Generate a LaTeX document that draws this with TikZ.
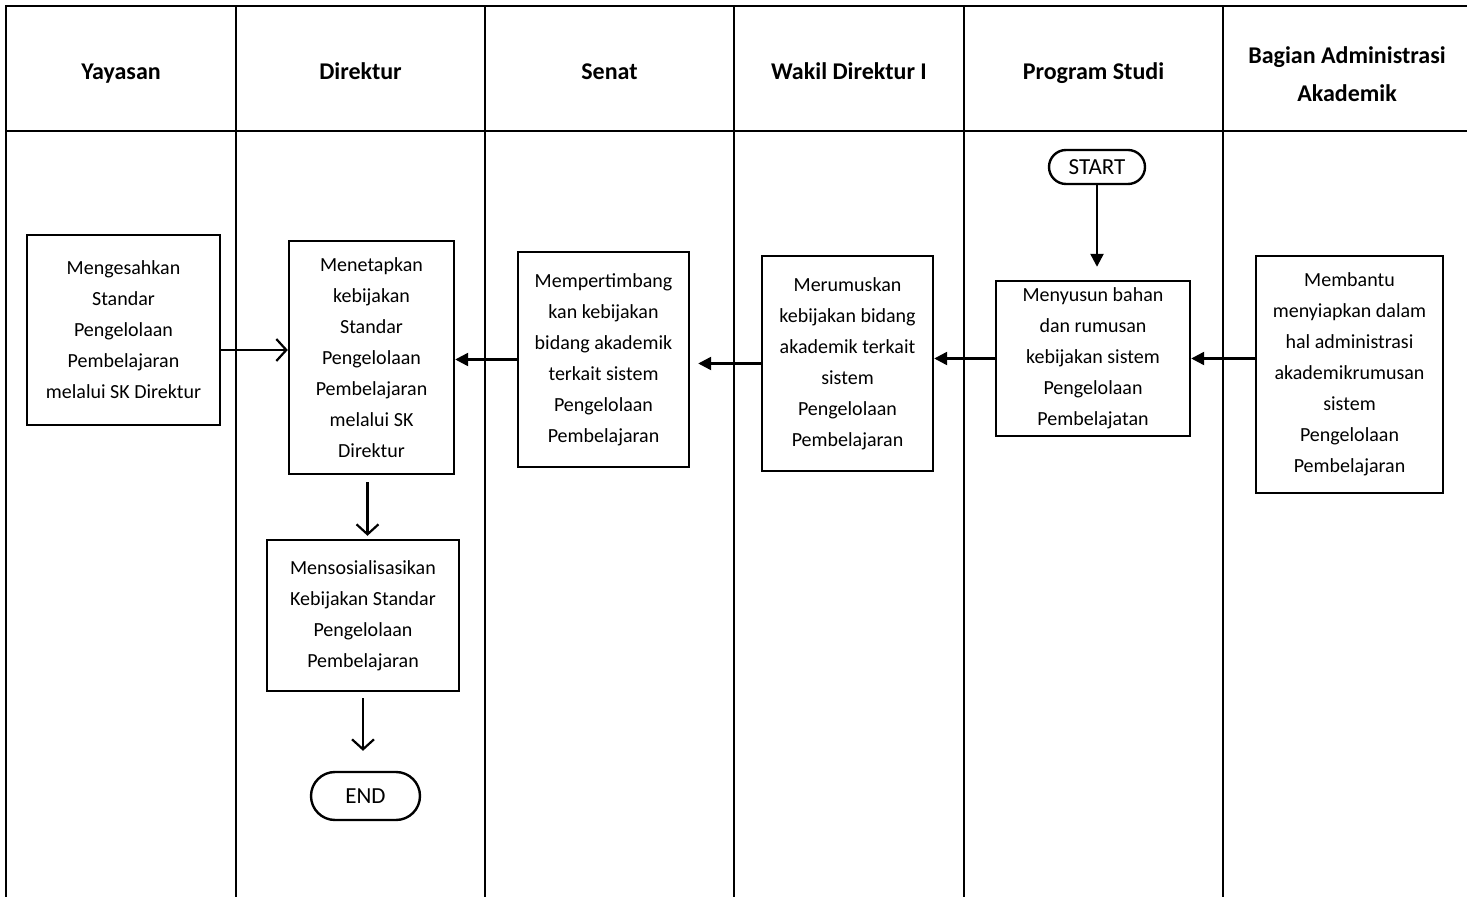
\documentclass[tikz,border=0pt]{standalone}
\usepackage{fontspec}
\setmainfont{Carlito}
\usetikzlibrary{arrows.meta,positioning}
\tikzset{
  garis/.style={line width=1.3pt},
  kotak/.style={draw, line width=1.2pt, align=center, inner sep=2pt, font=\fontsize{10}{15.5}\selectfont},
  terminal/.style={draw, line width=1.2pt, align=center, inner sep=0pt, font=\fontsize{11.5}{13}\selectfont},
  judul/.style={align=center, font=\fontsize{12}{19}\selectfont\bfseries},
  panahisi/.style={line width=1.2pt, -{Triangle[length=6.5pt,width=6.5pt]}},
  panahbuka/.style={line width=1.1pt, -{Straight Barb[length=5pt,width=11pt,line width=1.1pt]}},
}
\begin{document}
\begin{tikzpicture}[x=0.5pt, y=-0.5pt, line join=miter]
\useasboundingbox (0,0) rectangle (1467,897);
% Bingkai dan garis lajur
\draw[garis] (6,897) -- (6,6) -- (1467,6);
\draw[garis] (6,131) -- (1467,131);
\foreach \x in {236,485,734,964,1223}
  \draw[garis] (\x,6) -- (\x,897);
% Judul lajur
\node[judul, anchor=base] (hYay) at (121,80) {Yayasan};
\node[judul, anchor=base] (hDir) at (360.5,80) {Direktur};
\node[judul, anchor=base] (hSen) at (609.5,80) {Senat};
\node[judul, anchor=base] (hWak) at (849,80) {Wakil Direktur I};
\node[judul, anchor=base] (hPro) at (1093.5,80) {Program Studi};
\node[judul] (hBaa) at (1347,74) {Bagian Administrasi\\Akademik};
% Kotak proses
\node[kotak, minimum width=96.5pt, minimum height=95pt] (yay) at (123.5,330)
  {Mengesahkan\\Standar\\Pengelolaan\\Pembelajaran\\melalui SK Direktur};
\node[kotak, minimum width=82.5pt, minimum height=116.5pt] (dir1) at (371.5,357.5)
  {Menetapkan\\kebijakan\\Standar\\Pengelolaan\\Pembelajaran\\melalui SK\\Direktur};
\node[kotak, minimum width=96pt, minimum height=75.5pt] (dir2) at (363,615.5)
  {Mensosialisasikan\\Kebijakan Standar\\Pengelolaan\\Pembelajaran};
\node[kotak, minimum width=85.5pt, minimum height=107.5pt] (sen) at (603.5,359.5)
  {Mempertimbang\\kan kebijakan\\bidang akademik\\terkait sistem\\Pengelolaan\\Pembelajaran};
\node[kotak, minimum width=85.5pt, minimum height=107.5pt] (wak) at (847.5,363.5)
  {Merumuskan\\kebijakan bidang\\akademik terkait\\sistem\\Pengelolaan\\Pembelajaran};
\node[kotak, minimum width=97pt, minimum height=77.5pt] (pro) at (1093,358.5)
  {Menyusun bahan\\dan rumusan\\kebijakan sistem\\Pengelolaan\\Pembelajatan};
\node[kotak, minimum width=93.5pt, minimum height=118.5pt] (baa) at (1349.5,374.5)
  {Membantu\\menyiapkan dalam\\hal administrasi\\akademikrumusan\\sistem\\Pengelolaan\\Pembelajaran};
% Awal dan akhir
\node[terminal, rounded corners=8.5pt, minimum width=48pt, minimum height=17pt] (start) at (1097,167) {START};
\node[terminal, rounded corners=12pt, minimum width=54.5pt, minimum height=24pt] (end) at (365.5,796) {END};
% Panah
\draw[panahisi, shorten >=6.5pt] (start.south) -- (start.south |- pro.north);
\draw[panahisi] (pro.east -| baa.west) -- (pro.east);
\draw[panahisi] (pro.west) -- (pro.west -| wak.east);
\draw[panahisi, shorten >=4pt] (wak.west) -- (wak.west -| sen.east);
\draw[panahisi] (sen.west) -- (sen.west -| dir1.east);
\draw[panahbuka] ([yshift=-10pt]yay.east) -- ([yshift=-10pt]yay.east -| dir1.west);
\draw[panahbuka, shorten <=3.5pt, shorten >=1.5pt] ([xshift=-2pt]dir1.south) -- ([xshift=-2pt]dir1.south |- dir2.north);
\draw[panahbuka, shorten <=3pt, shorten >=10pt] (dir2.south) -- (dir2.south |- end.north);
\end{tikzpicture}
\end{document}
